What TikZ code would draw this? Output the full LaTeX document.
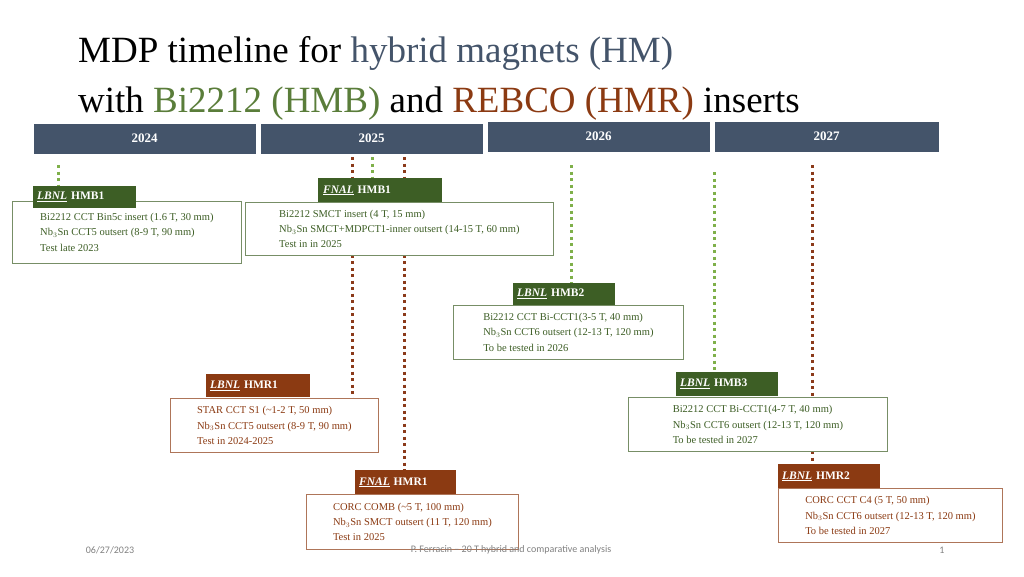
\documentclass[tikz,border=0pt]{standalone}
\usepackage{fontspec}
\setmainfont{Liberation Serif}
\setsansfont{Carlito}
\definecolor{bar}{HTML}{44546A}
\definecolor{gr}{HTML}{3D5E25}
\definecolor{grt}{HTML}{5A7D3A}
\definecolor{grd}{HTML}{7FB04A}
\definecolor{br}{HTML}{8B3A12}
\definecolor{brd}{HTML}{8B3A1A}
\begin{document}
\begin{tikzpicture}[x=1pt,y=-1pt,
  yr/.style={fill=bar,draw=white,line width=0.8pt,text=white,font=\fontsize{13}{15}\selectfont\bfseries},
  tab/.style={fill=#1,text=white,anchor=north west,inner sep=0pt,font=\fontsize{11.5}{13}\selectfont\bfseries},
  info/.style={draw=#1!70!white,line width=0.8pt,fill=white,text=#1,anchor=north west,inner xsep=6pt,inner ysep=5pt,align=left,font=\fontsize{10.5}{15.3}\selectfont},
  gdot/.style={grd,line width=3pt,dash pattern=on 3pt off 3.5pt},
  bdot/.style={brd,line width=3pt,dash pattern=on 3pt off 3.5pt},
  foot/.style={text=gray,font=\sffamily\fontsize{10}{12}\selectfont}]
\useasboundingbox (0,0) rectangle (1024,576);
\node[anchor=base west,inner sep=0pt,font=\fontsize{37}{40}\selectfont] (t1) at (78,62) {MDP timeline for \textcolor{bar}{hybrid magnets (HM)}};
\node[anchor=base west,inner sep=0pt,font=\fontsize{37}{40}\selectfont] (t2) at (78,112) {with \textcolor{grt}{Bi2212 (HMB)} and \textcolor{br}{REBCO (HMR)} inserts};
% years
\path[yr] (33,123) rectangle node (y1) {2024} (256,154);
\path[yr] (260,123) rectangle node (y2) {2025} (483,154);
\path[yr] (487,121) rectangle node (y3) {2026} (710,152);
\path[yr] (714,121) rectangle node (y4) {2027} (939,152);
% dotted lines
\coordinate (a1) at (58,165); \coordinate (a2) at (58,190);
\draw[gdot] (a1) -- (a2);
\coordinate (b1) at (352,157); \coordinate (b2) at (352,398);
\draw[bdot] (b1) -- (b2);
\coordinate (c1) at (372,157); \coordinate (c2) at (372,180);
\draw[gdot] (c1) -- (c2);
\coordinate (d1) at (404,157); \coordinate (d2) at (404,472);
\draw[bdot] (d1) -- (d2);
\coordinate (e1) at (571,165); \coordinate (e2) at (571,284);
\draw[gdot] (e1) -- (e2);
\coordinate (f1) at (714,172); \coordinate (f2) at (714,374);
\draw[gdot] (f1) -- (f2);
\coordinate (g1) at (812,165); \coordinate (g2) at (812,466);
\draw[bdot] (g1) -- (g2);
% HMB1 LBNL
\node[info=gr,minimum width=229pt,minimum height=62pt] (bx1) at (12,201) {Bi2212 CCT Bin5c insert (1.6 T, 30 mm)\\Nb$_3$Sn CCT5 outsert (8-9 T, 90 mm)\\Test late 2023};
\node[tab=gr,minimum width=103pt,minimum height=22pt,text width=95pt,inner xsep=4pt] (tb1) at (33,186) {\underline{\textit{LBNL}} HMB1};
% HMB1 FNAL
\node[info=gr,minimum width=308pt,minimum height=53pt] (bx2) at (245,202) {Bi2212 SMCT insert (4 T, 15 mm)\\Nb$_3$Sn SMCT+MDPCT1-inner outsert (14-15 T, 60 mm)\\Test in in 2025};
\node[tab=gr,minimum width=124pt,minimum height=24pt,text width=114pt,inner xsep=5pt] (tb2) at (318,178) {\underline{\textit{FNAL}} HMB1};
% HMB2
\node[info=gr,minimum width=230pt,minimum height=54pt] (bx3) at (453,305) {Bi2212 CCT Bi-CCT1(3-5 T, 40 mm)\\Nb$_3$Sn CCT6 outsert (12-13 T, 120 mm)\\To be tested in 2026};
\node[tab=gr,minimum width=102pt,minimum height=22pt,text width=94pt,inner xsep=4pt] (tb3) at (513,283) {\underline{\textit{LBNL}} HMB2};
% HMR1 LBNL
\node[info=br,minimum width=208pt,minimum height=54pt] (bx4) at (170,398) {STAR CCT S1 (\textasciitilde1-2 T, 50 mm)\\Nb$_3$Sn CCT5 outsert (8-9 T, 90 mm)\\Test in 2024-2025};
\node[tab=br,minimum width=104pt,minimum height=23pt,text width=96pt,inner xsep=4pt] (tb4) at (206,374) {\underline{\textit{LBNL}} HMR1};
% HMB3
\node[info=gr,minimum width=259pt,minimum height=54pt] (bx5) at (628,397) {Bi2212 CCT Bi-CCT1(4-7 T, 40 mm)\\Nb$_3$Sn CCT6 outsert (12-13 T, 120 mm)\\To be tested in 2027};
\node[tab=gr,minimum width=102pt,minimum height=24pt,text width=94pt,inner xsep=4pt] (tb5) at (676,372) {\underline{\textit{LBNL}} HMB3};
% HMR2
\node[info=br,minimum width=224pt,minimum height=54pt] (bx6) at (778,488) {CORC CCT C4 (5 T, 50 mm)\\Nb$_3$Sn CCT6 outsert (12-13 T, 120 mm)\\To be tested in 2027};
\node[tab=br,minimum width=102pt,minimum height=24pt,text width=94pt,inner xsep=4pt] (tb6) at (778,464) {\underline{\textit{LBNL}} HMR2};
% HMR1 FNAL
\node[info=br,minimum width=212pt,minimum height=55pt] (bx7) at (306,494) {CORC COMB (\textasciitilde5 T, 100 mm)\\Nb$_3$Sn SMCT outsert (11 T, 120 mm)\\Test in 2025};
\node[tab=br,minimum width=101pt,minimum height=24pt,text width=93pt,inner xsep=4pt] (tb7) at (355,470) {\underline{\textit{FNAL}} HMR1};
% footer
\node[foot] (f1n) at (110,550) {06/27/2023};
\node[foot] (f2n) at (511,550) {P. Ferracin -- 20 T hybrid and comparative analysis};
\node[foot] (f3n) at (942,550) {1};
\end{tikzpicture}
\end{document}
